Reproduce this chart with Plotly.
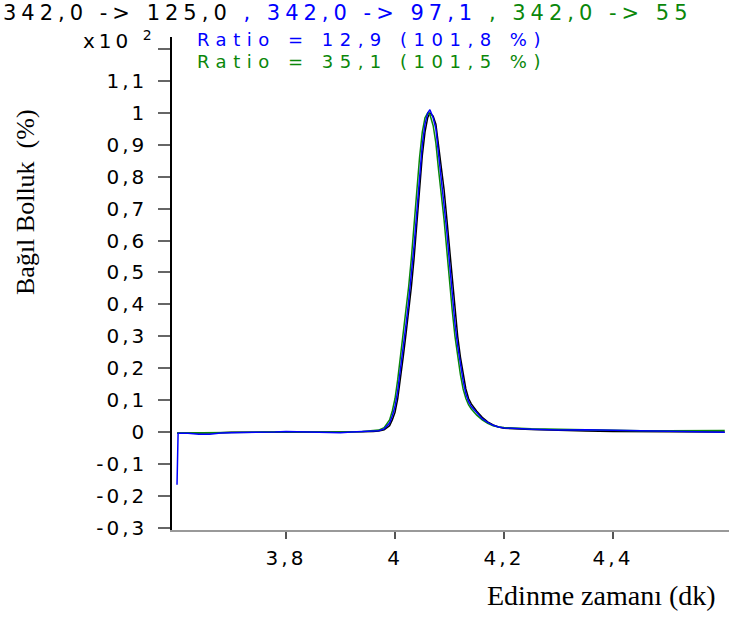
import plotly.graph_objects as go

# Retention time (min), shared by the three MRM transitions
time_min = [3.600, 3.602, 3.62, 3.64, 3.66, 3.68, 3.70, 3.72, 3.74, 3.76,
            3.78, 3.80, 3.82, 3.84, 3.86, 3.88, 3.90, 3.92, 3.94, 3.96,
            3.97, 3.98, 3.99, 3.995, 4.000, 4.005, 4.010, 4.015, 4.020, 4.025,
            4.030, 4.035, 4.040, 4.045, 4.050, 4.055, 4.060, 4.064,
            4.070, 4.075, 4.080, 4.085, 4.090, 4.095, 4.100, 4.105, 4.110, 4.115,
            4.120, 4.125, 4.130, 4.135, 4.140, 4.150, 4.160, 4.170, 4.180, 4.190,
            4.200, 4.25, 4.30, 4.35, 4.40, 4.45, 4.50, 4.55, 4.605]

# Relative abundance (x10^2 %)
abund_125 = [-0.004, -0.004, -0.003, -0.003, -0.002, -0.002, -0.001, -0.001, -0.001, 0.000,
             0.000, 0.000, 0.001, 0.000, 0.000, -0.001, 0.000, 0.000, 0.001, 0.002,
             0.003, 0.007, 0.020, 0.038, 0.062, 0.105, 0.165, 0.235, 0.305, 0.375,
             0.455, 0.545, 0.650, 0.760, 0.865, 0.940, 0.985, 1.000,
             0.990, 0.965, 0.900, 0.835, 0.760, 0.670, 0.575, 0.475, 0.375, 0.300,
             0.235, 0.180, 0.135, 0.105, 0.088, 0.065, 0.046, 0.032, 0.022, 0.016,
             0.012, 0.008, 0.005, 0.003, 0.002, 0.001, 0.001, 0.000, 0.000]

abund_97 = [-0.165, -0.004, -0.004, -0.007, -0.007, -0.003, -0.002, -0.002, -0.001, -0.001,
            0.000, 0.002, 0.001, -0.001, -0.001, -0.003, -0.002, 0.000, 0.002, 0.003,
            0.004, 0.010, 0.028, 0.050, 0.080, 0.130, 0.195, 0.265, 0.335, 0.410,
            0.490, 0.585, 0.690, 0.800, 0.900, 0.965, 1.000, 1.010,
            0.985, 0.950, 0.870, 0.800, 0.720, 0.630, 0.530, 0.430, 0.340, 0.270,
            0.210, 0.160, 0.120, 0.095, 0.080, 0.060, 0.042, 0.030, 0.021, 0.016,
            0.013, 0.009, 0.006, 0.007, 0.005, 0.003, 0.002, 0.001, -0.001]

abund_55 = [-0.003, -0.003, -0.003, -0.003, -0.002, -0.002, -0.001, -0.001, -0.001, 0.000,
            0.000, 0.001, 0.000, 0.000, -0.001, 0.000, 0.000, 0.001, 0.002, 0.004,
            0.006, 0.014, 0.038, 0.066, 0.105, 0.165, 0.235, 0.305, 0.380, 0.455,
            0.545, 0.650, 0.760, 0.860, 0.940, 0.985, 1.000, 0.995,
            0.960, 0.905, 0.820, 0.750, 0.665, 0.570, 0.470, 0.380, 0.300, 0.235,
            0.180, 0.135, 0.105, 0.085, 0.072, 0.053, 0.038, 0.027, 0.020, 0.016,
            0.014, 0.010, 0.008, 0.006, 0.005, 0.004, 0.004, 0.004, 0.005]

x_tickvals = [3.8, 4.0, 4.2, 4.4]
x_ticktext = ["3,8", "4", "4,2", "4,4"]
# the 1,2 tick carries no label: the x10^2 scale factor sits beside it
y_tickvals = [-0.3, -0.2, -0.1, 0.0, 0.1, 0.2, 0.3, 0.4, 0.5, 0.6, 0.7, 0.8, 0.9, 1.0, 1.1, 1.2]
y_ticktext = ["-0,3", "-0,2", "-0,1", "0", "0,1", "0,2", "0,3", "0,4", "0,5", "0,6",
              "0,7", "0,8", "0,9", "1", "1,1", ""]

BLACK = "#000000"
BLUE = "#0000ff"
GREEN = "#0a870a"
SANS = "DejaVu Sans"
SERIF = "Liberation Serif"


def spaced(text, gap, color=None):
    if not text:
        return text
    style = "letter-spacing:%spx" % gap
    if color:
        style += ";color:" + color
    return "<span style='%s'>%s</span>" % (style, text)


fig = go.Figure()
for y, c in [(abund_125, BLACK), (abund_55, GREEN), (abund_97, BLUE)]:
    fig.add_trace(go.Scatter(x=time_min, y=y, mode="lines",
                             line=dict(color=c, width=1.5), hoverinfo="skip"))

W, H = 729, 617
ML, MR, MT, MB = 172, 0, 37, 87
PW, PH = W - ML - MR, H - MT - MB


def px(xp):
    return (xp - ML) / PW


def py(yp):
    return (H - MB - yp) / PH


title_text = (spaced("342,0 -&gt; 125,0 ", 5)
              + spaced(", 342,0 -&gt; 97,1 ", 5, BLUE)
              + spaced(", 342,0 -&gt; 55", 5, GREEN))

annotations = [
    dict(text=title_text, x=px(1), y=py(13), xanchor="left", yanchor="middle",
         font=dict(family=SANS, size=21, color=BLACK)),
    dict(text=spaced("x10 <sup>2</sup>", 4), x=px(158), y=py(40), xanchor="right", yanchor="middle",
         font=dict(family=SANS, size=20, color=BLACK)),
    dict(text=spaced("Ratio = 12,9 (101,8 %)", 6.5), x=px(195), y=py(40),
         xanchor="left", yanchor="middle", font=dict(family=SANS, size=18, color=BLUE)),
    dict(text=spaced("Ratio = 35,1 (101,5 %)", 6.5), x=px(195), y=py(62),
         xanchor="left", yanchor="middle", font=dict(family=SANS, size=18, color=GREEN)),
    dict(text="Bağıl Bolluk  (%)", x=px(25), y=py(202), textangle=-90,
         xanchor="center", yanchor="middle", font=dict(family=SERIF, size=26, color=BLACK)),
    dict(text="Edinme zamanı (dk)", x=px(601), y=py(595),
         xanchor="center", yanchor="middle", font=dict(family=SERIF, size=28, color=BLACK)),
]
for a in annotations:
    a.update(xref="paper", yref="paper", showarrow=False)

fig.update_layout(
    width=W, height=H,
    margin=dict(l=ML, r=MR, t=MT, b=MB, pad=0),
    paper_bgcolor="white", plot_bgcolor="white",
    showlegend=False,
    annotations=annotations,
    xaxis=dict(range=[3.5908, 4.6128], tickvals=x_tickvals,
               ticktext=[spaced(t, 3) for t in x_ticktext],
               ticks="outside", ticklen=7, tickwidth=1.5, tickcolor="#555555",
               showline=True, linecolor="#999999", linewidth=2,
               showgrid=False, zeroline=False, ticklabelstandoff=2,
               tickfont=dict(family=SANS, size=20, color=BLACK)),
    yaxis=dict(range=[-0.307, 1.238], tickmode="array", tickvals=y_tickvals,
               ticktext=[spaced(t, 3) for t in y_ticktext],
               ticks="outside", ticklen=12, tickwidth=1.5, tickcolor="#666666",
               showline=True, linecolor=BLACK, linewidth=1.5,
               showgrid=False, zeroline=False, ticklabelstandoff=7,
               tickfont=dict(family=SANS, size=20, color=BLACK)),
)

fig.write_html("out.html")
